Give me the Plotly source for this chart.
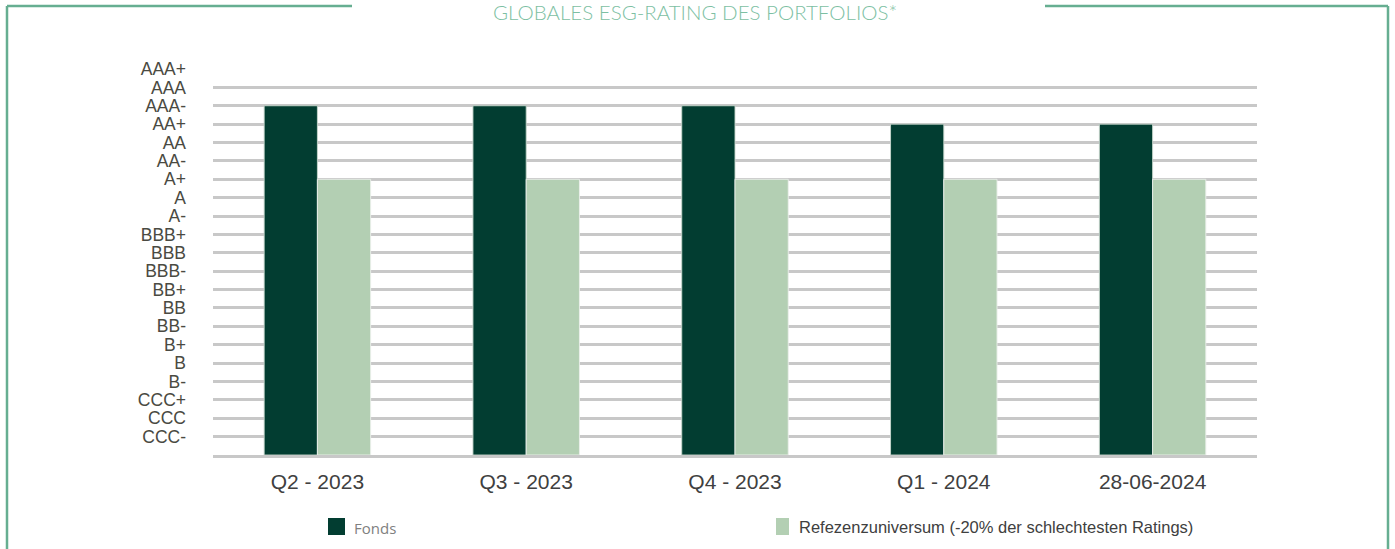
import plotly.graph_objects as go

categories = ["Q2 - 2023", "Q3 - 2023", "Q4 - 2023", "Q1 - 2024", "28-06-2024"]
rating_labels = ["", "CCC-", "CCC", "CCC+", "B-", "B", "B+", "BB-", "BB", "BB+",
                 "BBB-", "BBB", "BBB+", "A-", "A", "A+", "AA-", "AA", "AA+",
                 "AAA-", "AAA", "AAA+"]
fonds_ratings = ["AAA-", "AAA-", "AAA-", "AA+", "AA+"]
referenz_ratings = ["A+", "A+", "A+", "A+", "A+"]
series_names = ["Fonds", "Refezenzuniversum (-20% der schlechtesten Ratings)"]
title_text = "GLOBALES ESG-RATING DES PORTFOLIOS*"

DARK = "#023d31"
LIGHT = "#b3cfb3"
FRAME = "#66ae91"
GRID = "#c8c8c8"

fonds_vals = [rating_labels.index(r) for r in fonds_ratings]
ref_vals = [rating_labels.index(r) for r in referenz_ratings]

W, H = 1395, 549
L, R, T, B = 213, 138, 69, 94

fig = go.Figure()
fig.add_trace(go.Bar(x=categories, y=fonds_vals, name=series_names[0],
                     marker=dict(color=DARK, line=dict(color="rgba(200,215,205,0.9)", width=1)),
                     showlegend=False))
fig.add_trace(go.Bar(x=categories, y=ref_vals, name=series_names[1],
                     marker=dict(color=LIGHT, line=dict(color="rgba(235,240,235,0.9)", width=1)),
                     showlegend=False))

fig.update_layout(
    width=W, height=H,
    margin=dict(l=L, r=R, t=T, b=B),
    paper_bgcolor="white", plot_bgcolor="white",
    barmode="group", bargap=0.49, bargroupgap=0.0,
    font=dict(family="Liberation Sans, Arial", color="#404040"),
)
fig.update_xaxes(showgrid=False, showline=True, linecolor=GRID, linewidth=2.5,
                 zeroline=False,
                 tickfont=dict(size=21, color="#404040"),
                 ticklabelstandoff=6)
fig.update_yaxes(range=[0, 21], tickmode="array",
                 tickvals=list(range(len(rating_labels))), ticktext=rating_labels,
                 showgrid=True, gridcolor=GRID, gridwidth=2.5,
                 zeroline=False, showline=False,
                 tickfont=dict(family="Liberation Sans", size=17.5, color="#4a4a42"),
                 ticklabelstandoff=26)

def px_x(x):
    return (x - L) / (W - L - R)

def px_y(y):
    return 1 - (y - T) / (H - T - B)

frame_kw = dict(type="line", xref="paper", yref="paper", line=dict(color=FRAME, width=2.5))
fig.add_shape(x0=px_x(7), x1=px_x(352), y0=px_y(6), y1=px_y(6), **frame_kw)
fig.add_shape(x0=px_x(7), x1=px_x(7), y0=px_y(6), y1=px_y(560), **frame_kw)
fig.add_shape(x0=px_x(1045), x1=px_x(1388), y0=px_y(6), y1=px_y(6), **frame_kw)
fig.add_shape(x0=px_x(1388), x1=px_x(1388), y0=px_y(6), y1=px_y(560), **frame_kw)

# title
fig.add_annotation(text=title_text, xref="paper", yref="paper",
                   x=px_x(695), y=px_y(12), xanchor="center", yanchor="middle",
                   showarrow=False,
                   font=dict(family="Lato Light, Lato", size=20.5, color="#7dbfa3"))

# legend (manual)
fig.add_shape(type="rect", xref="paper", yref="paper",
              x0=px_x(328), x1=px_x(345), y0=px_y(518), y1=px_y(535),
              fillcolor=DARK, line=dict(width=0))
fig.add_annotation(text=series_names[0], xref="paper", yref="paper",
                   x=px_x(352), y=px_y(528), xanchor="left", yanchor="middle",
                   showarrow=False,
                   font=dict(family="Open Sans", size=15, color="#808080"))
fig.add_shape(type="rect", xref="paper", yref="paper",
              x0=px_x(776), x1=px_x(789), y0=px_y(518), y1=px_y(535),
              fillcolor=LIGHT, line=dict(width=0))
fig.add_annotation(text=series_names[1], xref="paper", yref="paper",
                   x=px_x(797), y=px_y(527), xanchor="left", yanchor="middle",
                   showarrow=False,
                   font=dict(family="Liberation Sans", size=16.5, color="#404040"))

fig.write_html("out.html")
